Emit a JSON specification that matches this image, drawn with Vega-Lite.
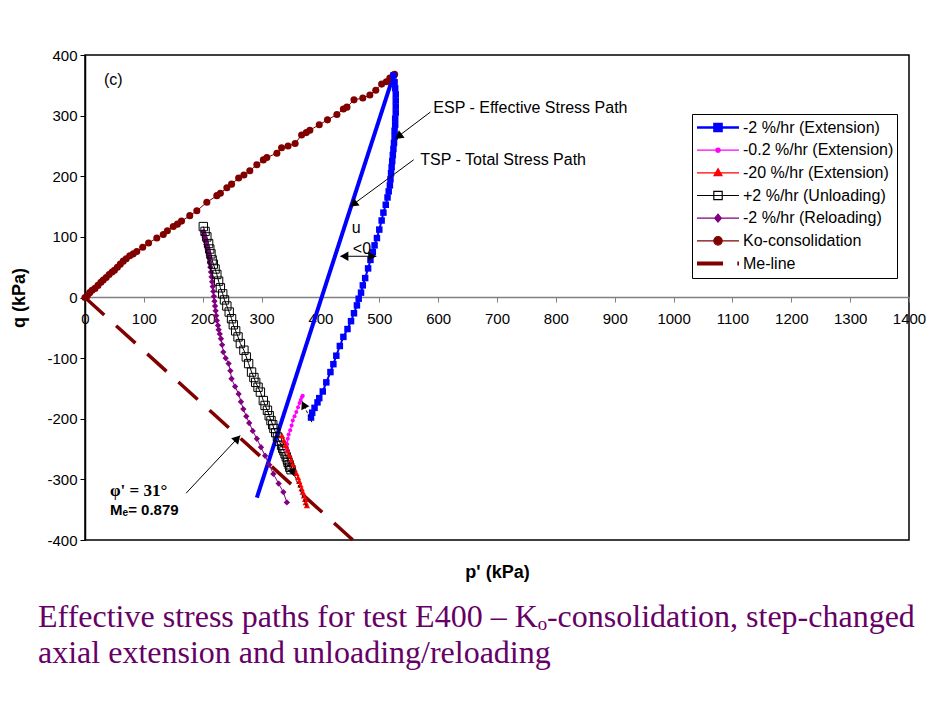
{
  "$schema": "https://vega.github.io/schema/vega-lite/v6.json",
  "width": 824,
  "height": 485,
  "autosize": {"type": "none"},
  "padding": {"left": 85, "top": 55, "right": 41, "bottom": 181},
  "background": "white",
  "title": {
    "text": ["Effective stress paths for test E400 – Kₒ-consolidation, step-changed", "axial extension and unloading/reloading"],
    "orient": "bottom",
    "anchor": "start",
    "frame": "group",
    "font": "Liberation Serif",
    "fontSize": 32,
    "fontWeight": "normal",
    "color": "#660066",
    "lineHeight": 36,
    "dx": -47,
    "offset": 21,
    "baseline": "top"
  },
  "datasets": {
    "paths": [
      {"s": "Ko-consolidation", "i": 0, "p": 0, "q": 0},
      {"s": "Ko-consolidation", "i": 1, "p": 4, "q": 3},
      {"s": "Ko-consolidation", "i": 2, "p": 8, "q": 8},
      {"s": "Ko-consolidation", "i": 3, "p": 12, "q": 12},
      {"s": "Ko-consolidation", "i": 4, "p": 17, "q": 15},
      {"s": "Ko-consolidation", "i": 5, "p": 22, "q": 20},
      {"s": "Ko-consolidation", "i": 6, "p": 27, "q": 25},
      {"s": "Ko-consolidation", "i": 7, "p": 31, "q": 29},
      {"s": "Ko-consolidation", "i": 8, "p": 36, "q": 33},
      {"s": "Ko-consolidation", "i": 9, "p": 41, "q": 38},
      {"s": "Ko-consolidation", "i": 10, "p": 46, "q": 42},
      {"s": "Ko-consolidation", "i": 11, "p": 50, "q": 45},
      {"s": "Ko-consolidation", "i": 12, "p": 55, "q": 50},
      {"s": "Ko-consolidation", "i": 13, "p": 60, "q": 55},
      {"s": "Ko-consolidation", "i": 14, "p": 65, "q": 60},
      {"s": "Ko-consolidation", "i": 15, "p": 70, "q": 64},
      {"s": "Ko-consolidation", "i": 16, "p": 76, "q": 69},
      {"s": "Ko-consolidation", "i": 17, "p": 82, "q": 72},
      {"s": "Ko-consolidation", "i": 18, "p": 88, "q": 76},
      {"s": "Ko-consolidation", "i": 19, "p": 98, "q": 83},
      {"s": "Ko-consolidation", "i": 20, "p": 108, "q": 90},
      {"s": "Ko-consolidation", "i": 21, "p": 122, "q": 98},
      {"s": "Ko-consolidation", "i": 22, "p": 133, "q": 104},
      {"s": "Ko-consolidation", "i": 23, "p": 140, "q": 110},
      {"s": "Ko-consolidation", "i": 24, "p": 150, "q": 117},
      {"s": "Ko-consolidation", "i": 25, "p": 157, "q": 121},
      {"s": "Ko-consolidation", "i": 26, "p": 164, "q": 126},
      {"s": "Ko-consolidation", "i": 27, "p": 178, "q": 135},
      {"s": "Ko-consolidation", "i": 28, "p": 190, "q": 143},
      {"s": "Ko-consolidation", "i": 29, "p": 207, "q": 157},
      {"s": "Ko-consolidation", "i": 30, "p": 224, "q": 168},
      {"s": "Ko-consolidation", "i": 31, "p": 230, "q": 172},
      {"s": "Ko-consolidation", "i": 32, "p": 241, "q": 181},
      {"s": "Ko-consolidation", "i": 33, "p": 249, "q": 187},
      {"s": "Ko-consolidation", "i": 34, "p": 261, "q": 197},
      {"s": "Ko-consolidation", "i": 35, "p": 270, "q": 202},
      {"s": "Ko-consolidation", "i": 36, "p": 280, "q": 209},
      {"s": "Ko-consolidation", "i": 37, "p": 292, "q": 219},
      {"s": "Ko-consolidation", "i": 38, "p": 303, "q": 227},
      {"s": "Ko-consolidation", "i": 39, "p": 309, "q": 231},
      {"s": "Ko-consolidation", "i": 40, "p": 326, "q": 238},
      {"s": "Ko-consolidation", "i": 41, "p": 334, "q": 247},
      {"s": "Ko-consolidation", "i": 42, "p": 345, "q": 250},
      {"s": "Ko-consolidation", "i": 43, "p": 357, "q": 254},
      {"s": "Ko-consolidation", "i": 44, "p": 368, "q": 268},
      {"s": "Ko-consolidation", "i": 45, "p": 376, "q": 272},
      {"s": "Ko-consolidation", "i": 46, "p": 382, "q": 276},
      {"s": "Ko-consolidation", "i": 47, "p": 398, "q": 285},
      {"s": "Ko-consolidation", "i": 48, "p": 412, "q": 293},
      {"s": "Ko-consolidation", "i": 49, "p": 428, "q": 302},
      {"s": "Ko-consolidation", "i": 50, "p": 439, "q": 311},
      {"s": "Ko-consolidation", "i": 51, "p": 445, "q": 314},
      {"s": "Ko-consolidation", "i": 52, "p": 457, "q": 326},
      {"s": "Ko-consolidation", "i": 53, "p": 472, "q": 329},
      {"s": "Ko-consolidation", "i": 54, "p": 484, "q": 334},
      {"s": "Ko-consolidation", "i": 55, "p": 494, "q": 342},
      {"s": "Ko-consolidation", "i": 56, "p": 504, "q": 352},
      {"s": "Ko-consolidation", "i": 57, "p": 512, "q": 356},
      {"s": "Ko-consolidation", "i": 58, "p": 518, "q": 362},
      {"s": "Ko-consolidation", "i": 59, "p": 524, "q": 367},
      {"s": "Ko-consolidation", "i": 60, "p": 526, "q": 368},

      {"s": "-2 %/hr (Extension)", "i": 0, "p": 524, "q": 366},
      {"s": "-2 %/hr (Extension)", "i": 1, "p": 526, "q": 355},
      {"s": "-2 %/hr (Extension)", "i": 2, "p": 527, "q": 345},
      {"s": "-2 %/hr (Extension)", "i": 3, "p": 528, "q": 335},
      {"s": "-2 %/hr (Extension)", "i": 4, "p": 528, "q": 325},
      {"s": "-2 %/hr (Extension)", "i": 5, "p": 528, "q": 315},
      {"s": "-2 %/hr (Extension)", "i": 6, "p": 528, "q": 305},
      {"s": "-2 %/hr (Extension)", "i": 7, "p": 527, "q": 295},
      {"s": "-2 %/hr (Extension)", "i": 8, "p": 527, "q": 285},
      {"s": "-2 %/hr (Extension)", "i": 9, "p": 526, "q": 275},
      {"s": "-2 %/hr (Extension)", "i": 10, "p": 526, "q": 265},
      {"s": "-2 %/hr (Extension)", "i": 11, "p": 525, "q": 255},
      {"s": "-2 %/hr (Extension)", "i": 12, "p": 524, "q": 245},
      {"s": "-2 %/hr (Extension)", "i": 13, "p": 523, "q": 235},
      {"s": "-2 %/hr (Extension)", "i": 14, "p": 522, "q": 225},
      {"s": "-2 %/hr (Extension)", "i": 15, "p": 521, "q": 215},
      {"s": "-2 %/hr (Extension)", "i": 16, "p": 520, "q": 205},
      {"s": "-2 %/hr (Extension)", "i": 17, "p": 519, "q": 195},
      {"s": "-2 %/hr (Extension)", "i": 18, "p": 518, "q": 185},
      {"s": "-2 %/hr (Extension)", "i": 19, "p": 516, "q": 175},
      {"s": "-2 %/hr (Extension)", "i": 20, "p": 514, "q": 165},
      {"s": "-2 %/hr (Extension)", "i": 21, "p": 511, "q": 153},
      {"s": "-2 %/hr (Extension)", "i": 22, "p": 507, "q": 140},
      {"s": "-2 %/hr (Extension)", "i": 23, "p": 504, "q": 127},
      {"s": "-2 %/hr (Extension)", "i": 24, "p": 500, "q": 112},
      {"s": "-2 %/hr (Extension)", "i": 25, "p": 496, "q": 98},
      {"s": "-2 %/hr (Extension)", "i": 26, "p": 492, "q": 86},
      {"s": "-2 %/hr (Extension)", "i": 27, "p": 489, "q": 75},
      {"s": "-2 %/hr (Extension)", "i": 28, "p": 485, "q": 62},
      {"s": "-2 %/hr (Extension)", "i": 29, "p": 481, "q": 48},
      {"s": "-2 %/hr (Extension)", "i": 30, "p": 476, "q": 32},
      {"s": "-2 %/hr (Extension)", "i": 31, "p": 472, "q": 20},
      {"s": "-2 %/hr (Extension)", "i": 32, "p": 469, "q": 8},
      {"s": "-2 %/hr (Extension)", "i": 33, "p": 465, "q": -2},
      {"s": "-2 %/hr (Extension)", "i": 34, "p": 462, "q": -13},
      {"s": "-2 %/hr (Extension)", "i": 35, "p": 457, "q": -26},
      {"s": "-2 %/hr (Extension)", "i": 36, "p": 452, "q": -39},
      {"s": "-2 %/hr (Extension)", "i": 37, "p": 446, "q": -52},
      {"s": "-2 %/hr (Extension)", "i": 38, "p": 439, "q": -65},
      {"s": "-2 %/hr (Extension)", "i": 39, "p": 433, "q": -80},
      {"s": "-2 %/hr (Extension)", "i": 40, "p": 427, "q": -96},
      {"s": "-2 %/hr (Extension)", "i": 41, "p": 422, "q": -110},
      {"s": "-2 %/hr (Extension)", "i": 42, "p": 417, "q": -123},
      {"s": "-2 %/hr (Extension)", "i": 43, "p": 410, "q": -140},
      {"s": "-2 %/hr (Extension)", "i": 44, "p": 404, "q": -155},
      {"s": "-2 %/hr (Extension)", "i": 45, "p": 398, "q": -166},
      {"s": "-2 %/hr (Extension)", "i": 46, "p": 395, "q": -173},
      {"s": "-2 %/hr (Extension)", "i": 47, "p": 390, "q": -182},
      {"s": "-2 %/hr (Extension)", "i": 48, "p": 386, "q": -190},
      {"s": "-2 %/hr (Extension)", "i": 49, "p": 384, "q": -198},

      {"s": "-0.2 %/hr (Extension)", "i": 0, "p": 370, "q": -162},
      {"s": "-0.2 %/hr (Extension)", "i": 1, "p": 368.5, "q": -164},
      {"s": "-0.2 %/hr (Extension)", "i": 2, "p": 366.5, "q": -169},
      {"s": "-0.2 %/hr (Extension)", "i": 3, "p": 364.5, "q": -174},
      {"s": "-0.2 %/hr (Extension)", "i": 4, "p": 362, "q": -181},
      {"s": "-0.2 %/hr (Extension)", "i": 5, "p": 359, "q": -189},
      {"s": "-0.2 %/hr (Extension)", "i": 6, "p": 356, "q": -196},
      {"s": "-0.2 %/hr (Extension)", "i": 7, "p": 353, "q": -203},
      {"s": "-0.2 %/hr (Extension)", "i": 8, "p": 351, "q": -211},
      {"s": "-0.2 %/hr (Extension)", "i": 9, "p": 348.6, "q": -219},
      {"s": "-0.2 %/hr (Extension)", "i": 10, "p": 346, "q": -226},
      {"s": "-0.2 %/hr (Extension)", "i": 11, "p": 344.6, "q": -233},
      {"s": "-0.2 %/hr (Extension)", "i": 12, "p": 343.5, "q": -242},
      {"s": "-0.2 %/hr (Extension)", "i": 13, "p": 343, "q": -250},

      {"s": "-20 %/hr (Extension)", "i": 0, "p": 335, "q": -228},
      {"s": "-20 %/hr (Extension)", "i": 1, "p": 338, "q": -236},
      {"s": "-20 %/hr (Extension)", "i": 2, "p": 341, "q": -244},
      {"s": "-20 %/hr (Extension)", "i": 3, "p": 344, "q": -252},
      {"s": "-20 %/hr (Extension)", "i": 4, "p": 347, "q": -260},
      {"s": "-20 %/hr (Extension)", "i": 5, "p": 350, "q": -268},
      {"s": "-20 %/hr (Extension)", "i": 6, "p": 353, "q": -276},
      {"s": "-20 %/hr (Extension)", "i": 7, "p": 356, "q": -283},
      {"s": "-20 %/hr (Extension)", "i": 8, "p": 359, "q": -290},
      {"s": "-20 %/hr (Extension)", "i": 9, "p": 362, "q": -297},
      {"s": "-20 %/hr (Extension)", "i": 10, "p": 364, "q": -303},
      {"s": "-20 %/hr (Extension)", "i": 11, "p": 366, "q": -309},
      {"s": "-20 %/hr (Extension)", "i": 12, "p": 368, "q": -315},
      {"s": "-20 %/hr (Extension)", "i": 13, "p": 370, "q": -321},
      {"s": "-20 %/hr (Extension)", "i": 14, "p": 372, "q": -327},
      {"s": "-20 %/hr (Extension)", "i": 15, "p": 374, "q": -333},
      {"s": "-20 %/hr (Extension)", "i": 16, "p": 375, "q": -338},
      {"s": "-20 %/hr (Extension)", "i": 17, "p": 377, "q": -343},

      {"s": "+2 %/hr (Unloading)", "i": 0, "p": 350, "q": -284},
      {"s": "+2 %/hr (Unloading)", "i": 1, "p": 348, "q": -280},
      {"s": "+2 %/hr (Unloading)", "i": 2, "p": 347, "q": -276},
      {"s": "+2 %/hr (Unloading)", "i": 3, "p": 345, "q": -272},
      {"s": "+2 %/hr (Unloading)", "i": 4, "p": 344, "q": -268},
      {"s": "+2 %/hr (Unloading)", "i": 5, "p": 342, "q": -263},
      {"s": "+2 %/hr (Unloading)", "i": 6, "p": 340, "q": -258},
      {"s": "+2 %/hr (Unloading)", "i": 7, "p": 338, "q": -253},
      {"s": "+2 %/hr (Unloading)", "i": 8, "p": 336, "q": -249},
      {"s": "+2 %/hr (Unloading)", "i": 9, "p": 334, "q": -244},
      {"s": "+2 %/hr (Unloading)", "i": 10, "p": 330, "q": -237},
      {"s": "+2 %/hr (Unloading)", "i": 11, "p": 327, "q": -230},
      {"s": "+2 %/hr (Unloading)", "i": 12, "p": 324, "q": -223},
      {"s": "+2 %/hr (Unloading)", "i": 13, "p": 321, "q": -216},
      {"s": "+2 %/hr (Unloading)", "i": 14, "p": 319, "q": -210},
      {"s": "+2 %/hr (Unloading)", "i": 15, "p": 316, "q": -203},
      {"s": "+2 %/hr (Unloading)", "i": 16, "p": 313, "q": -195},
      {"s": "+2 %/hr (Unloading)", "i": 17, "p": 310, "q": -186},
      {"s": "+2 %/hr (Unloading)", "i": 18, "p": 306, "q": -178},
      {"s": "+2 %/hr (Unloading)", "i": 19, "p": 303, "q": -170},
      {"s": "+2 %/hr (Unloading)", "i": 20, "p": 298, "q": -156},
      {"s": "+2 %/hr (Unloading)", "i": 21, "p": 294, "q": -148},
      {"s": "+2 %/hr (Unloading)", "i": 22, "p": 290, "q": -140},
      {"s": "+2 %/hr (Unloading)", "i": 23, "p": 287, "q": -132},
      {"s": "+2 %/hr (Unloading)", "i": 24, "p": 283, "q": -123},
      {"s": "+2 %/hr (Unloading)", "i": 25, "p": 278, "q": -109},
      {"s": "+2 %/hr (Unloading)", "i": 26, "p": 274, "q": -98},
      {"s": "+2 %/hr (Unloading)", "i": 27, "p": 270, "q": -87},
      {"s": "+2 %/hr (Unloading)", "i": 28, "p": 264, "q": -76},
      {"s": "+2 %/hr (Unloading)", "i": 29, "p": 260, "q": -65},
      {"s": "+2 %/hr (Unloading)", "i": 30, "p": 256, "q": -55},
      {"s": "+2 %/hr (Unloading)", "i": 31, "p": 252, "q": -45},
      {"s": "+2 %/hr (Unloading)", "i": 32, "p": 249, "q": -35},
      {"s": "+2 %/hr (Unloading)", "i": 33, "p": 245, "q": -24},
      {"s": "+2 %/hr (Unloading)", "i": 34, "p": 241, "q": -14},
      {"s": "+2 %/hr (Unloading)", "i": 35, "p": 237, "q": -4},
      {"s": "+2 %/hr (Unloading)", "i": 36, "p": 234, "q": 6},
      {"s": "+2 %/hr (Unloading)", "i": 37, "p": 230, "q": 16},
      {"s": "+2 %/hr (Unloading)", "i": 38, "p": 227, "q": 27},
      {"s": "+2 %/hr (Unloading)", "i": 39, "p": 224, "q": 38},
      {"s": "+2 %/hr (Unloading)", "i": 40, "p": 221, "q": 47},
      {"s": "+2 %/hr (Unloading)", "i": 41, "p": 218, "q": 55},
      {"s": "+2 %/hr (Unloading)", "i": 42, "p": 216, "q": 62},
      {"s": "+2 %/hr (Unloading)", "i": 43, "p": 214, "q": 72},
      {"s": "+2 %/hr (Unloading)", "i": 44, "p": 212, "q": 80},
      {"s": "+2 %/hr (Unloading)", "i": 45, "p": 210, "q": 89},
      {"s": "+2 %/hr (Unloading)", "i": 46, "p": 207, "q": 100},
      {"s": "+2 %/hr (Unloading)", "i": 47, "p": 204, "q": 109},
      {"s": "+2 %/hr (Unloading)", "i": 48, "p": 201, "q": 117},

      {"s": "-2 %/hr (Reloading)", "i": 0, "p": 201, "q": 108},
      {"s": "-2 %/hr (Reloading)", "i": 1, "p": 202, "q": 104},
      {"s": "-2 %/hr (Reloading)", "i": 2, "p": 203, "q": 100},
      {"s": "-2 %/hr (Reloading)", "i": 3, "p": 204, "q": 96},
      {"s": "-2 %/hr (Reloading)", "i": 4, "p": 205, "q": 92},
      {"s": "-2 %/hr (Reloading)", "i": 5, "p": 206, "q": 88},
      {"s": "-2 %/hr (Reloading)", "i": 6, "p": 207, "q": 84},
      {"s": "-2 %/hr (Reloading)", "i": 7, "p": 208, "q": 80},
      {"s": "-2 %/hr (Reloading)", "i": 8, "p": 209, "q": 75},
      {"s": "-2 %/hr (Reloading)", "i": 9, "p": 210, "q": 70},
      {"s": "-2 %/hr (Reloading)", "i": 10, "p": 211, "q": 65},
      {"s": "-2 %/hr (Reloading)", "i": 11, "p": 212, "q": 58},
      {"s": "-2 %/hr (Reloading)", "i": 12, "p": 213, "q": 50},
      {"s": "-2 %/hr (Reloading)", "i": 13, "p": 214, "q": 42},
      {"s": "-2 %/hr (Reloading)", "i": 14, "p": 215, "q": 34},
      {"s": "-2 %/hr (Reloading)", "i": 15, "p": 216, "q": 26},
      {"s": "-2 %/hr (Reloading)", "i": 16, "p": 217, "q": 18},
      {"s": "-2 %/hr (Reloading)", "i": 17, "p": 218, "q": 10},
      {"s": "-2 %/hr (Reloading)", "i": 18, "p": 219, "q": 2},
      {"s": "-2 %/hr (Reloading)", "i": 19, "p": 220, "q": -6},
      {"s": "-2 %/hr (Reloading)", "i": 20, "p": 221, "q": -14},
      {"s": "-2 %/hr (Reloading)", "i": 21, "p": 222, "q": -22},
      {"s": "-2 %/hr (Reloading)", "i": 22, "p": 223, "q": -30},
      {"s": "-2 %/hr (Reloading)", "i": 23, "p": 224, "q": -38},
      {"s": "-2 %/hr (Reloading)", "i": 24, "p": 226, "q": -46},
      {"s": "-2 %/hr (Reloading)", "i": 25, "p": 227, "q": -53},
      {"s": "-2 %/hr (Reloading)", "i": 26, "p": 229, "q": -60},
      {"s": "-2 %/hr (Reloading)", "i": 27, "p": 231, "q": -68},
      {"s": "-2 %/hr (Reloading)", "i": 28, "p": 233, "q": -78},
      {"s": "-2 %/hr (Reloading)", "i": 29, "p": 235, "q": -90},
      {"s": "-2 %/hr (Reloading)", "i": 30, "p": 239, "q": -100},
      {"s": "-2 %/hr (Reloading)", "i": 31, "p": 244, "q": -109},
      {"s": "-2 %/hr (Reloading)", "i": 32, "p": 247, "q": -121},
      {"s": "-2 %/hr (Reloading)", "i": 33, "p": 249, "q": -134},
      {"s": "-2 %/hr (Reloading)", "i": 34, "p": 255, "q": -147},
      {"s": "-2 %/hr (Reloading)", "i": 35, "p": 261, "q": -159},
      {"s": "-2 %/hr (Reloading)", "i": 36, "p": 265, "q": -172},
      {"s": "-2 %/hr (Reloading)", "i": 37, "p": 269, "q": -184},
      {"s": "-2 %/hr (Reloading)", "i": 38, "p": 274, "q": -196},
      {"s": "-2 %/hr (Reloading)", "i": 39, "p": 279, "q": -207},
      {"s": "-2 %/hr (Reloading)", "i": 40, "p": 285, "q": -220},
      {"s": "-2 %/hr (Reloading)", "i": 41, "p": 292, "q": -233},
      {"s": "-2 %/hr (Reloading)", "i": 42, "p": 299, "q": -247},
      {"s": "-2 %/hr (Reloading)", "i": 43, "p": 306, "q": -261},
      {"s": "-2 %/hr (Reloading)", "i": 44, "p": 313, "q": -276},
      {"s": "-2 %/hr (Reloading)", "i": 45, "p": 320, "q": -291},
      {"s": "-2 %/hr (Reloading)", "i": 46, "p": 329, "q": -307},
      {"s": "-2 %/hr (Reloading)", "i": 47, "p": 337, "q": -321},
      {"s": "-2 %/hr (Reloading)", "i": 48, "p": 343, "q": -338},

      {"s": "Me-line", "i": 0, "p": 0, "q": 0},
      {"s": "Me-line", "i": 1, "p": 455, "q": -400}
    ]
  },
  "encoding": {
    "x": {
      "field": "p", "type": "quantitative",
      "scale": {"domain": [0, 1400], "nice": false, "zero": false},
      "axis": {
        "orient": "bottom", "offset": -243,
        "values": [0, 100, 200, 300, 400, 500, 600, 700, 800, 900, 1000, 1100, 1200, 1300, 1400],
        "labelExpr": "'' + datum.value",
        "grid": false, "tickSize": 5, "tickColor": "#808080", "domainColor": "#808080", "domainWidth": 1.5,
        "labelFont": "Liberation Sans", "labelFontSize": 15, "labelColor": "black", "labelPadding": 9,
        "labelOverlap": false, "labelFlush": false, "labelBound": false,
        "title": "p' (kPa)", "titleFont": "Liberation Sans", "titleFontSize": 18, "titleFontWeight": "bold",
        "titleColor": "black", "titleY": 275, "titleBaseline": "middle"
      }
    },
    "y": {
      "field": "q", "type": "quantitative",
      "scale": {"domain": [-400, 400], "nice": false, "zero": false},
      "axis": {
        "values": [-400, -300, -200, -100, 0, 100, 200, 300, 400],
        "labelExpr": "'' + datum.value",
        "grid": false, "tickSize": 5, "tickColor": "black", "domainColor": "black", "domainWidth": 1.5,
        "labelFont": "Liberation Sans", "labelFontSize": 15, "labelColor": "black", "labelPadding": 3,
        "title": "q (kPa)", "titleFont": "Liberation Sans", "titleFontSize": 18, "titleFontWeight": "bold",
        "titleColor": "black", "titleX": -66, "titleBaseline": "middle"
      }
    }
  },
  "layer": [
    {
      "data": {"values": [{"p": 292, "q": -330}, {"p": 524, "q": 366}]},
      "mark": {"type": "line", "color": "#0000ff", "strokeWidth": 4}
    },
    {
      "data": {"name": "paths"},
      "transform": [{"filter": "datum.s === 'Me-line'"}],
      "mark": {"type": "line", "strokeWidth": 3.5, "strokeDash": [26, 16], "strokeCap": "butt"},
      "encoding": {
        "order": {"field": "i"},
        "color": {
          "field": "s", "type": "nominal",
          "scale": {
            "domain": ["-2 %/hr (Extension)", "-0.2 %/hr (Extension)", "-20 %/hr (Extension)", "+2 %/hr (Unloading)", "-2 %/hr (Reloading)", "Ko-consolidation", "Me-line"],
            "range": ["#0000ff", "#ff00ff", "#ff0000", "#000000", "#800080", "#800000", "#800000"]
          },
          "legend": {
            "orient": "none", "legendX": 607, "legendY": 59, "title": null,
            "padding": 3, "strokeColor": "black", "fillColor": "white",
            "symbolSize": 1764, "clipHeight": 21, "rowPadding": 1.67,
            "labelFont": "Liberation Sans", "labelFontSize": 16, "labelColor": "black", "labelOffset": 4, "labelLimit": 300,
            "encode": {
              "symbols": {
                "update": {
                  "x": {"value": 23},
                  "size": {"value": 1764},
                  "shape": {"signal": "datum.value === '-2 %/hr (Extension)' ? 'M-1,0H1M-0.17,-0.17H0.17V0.17H-0.17Z' : datum.value === '-0.2 %/hr (Extension)' ? 'M-1,0H1M-0.1,0A0.1,0.1,0,1,0,0.1,0A0.1,0.1,0,1,0,-0.1,0Z' : datum.value === '-20 %/hr (Extension)' ? 'M-1,0H1M0,-0.2L0.19,0.13L-0.19,0.13Z' : datum.value === '+2 %/hr (Unloading)' ? 'M-1,0H1M-0.2,-0.2H0.2V0.2H-0.2Z' : datum.value === '-2 %/hr (Reloading)' ? 'M-1,0H1M0,-0.19L0.16,0L0,0.19L-0.16,0Z' : datum.value === 'Ko-consolidation' ? 'M-1,0H1M-0.2,0A0.2,0.2,0,1,0,0.2,0A0.2,0.2,0,1,0,-0.2,0Z' : 'M-1,0H0.24M0.92,0H1'"},
                  "stroke": {"signal": "datum.value === '-2 %/hr (Extension)' ? '#0000ff' : datum.value === '-0.2 %/hr (Extension)' ? '#ff00ff' : datum.value === '-20 %/hr (Extension)' ? '#ff0000' : datum.value === '+2 %/hr (Unloading)' ? '#000000' : datum.value === '-2 %/hr (Reloading)' ? '#800080' : '#800000'"},
                  "fill": {"signal": "datum.value === '-2 %/hr (Extension)' ? '#0000ff' : datum.value === '-0.2 %/hr (Extension)' ? '#ff00ff' : datum.value === '-20 %/hr (Extension)' ? '#ff0000' : datum.value === '+2 %/hr (Unloading)' ? '#ffffff' : datum.value === '-2 %/hr (Reloading)' ? '#800080' : '#800000'"},
                  "strokeWidth": {"signal": "datum.value === '-2 %/hr (Extension)' ? 2.5 : datum.value === 'Me-line' ? 4 : 1.2"},
                  "strokeDash": {"value": []},
                  "opacity": {"value": 1}
                }
              },
              "labels": {
                "update": {
                  "x": {"value": 48}
                }
              }
            }
          }
        }
      }
    },
    {
      "data": {"name": "paths"},
      "transform": [{"filter": "datum.s !== 'Me-line'"}],
      "mark": {"type": "line"},
      "encoding": {
        "order": {"field": "i"},
        "color": {
          "field": "s", "type": "nominal",
          "scale": {
            "domain": ["-2 %/hr (Extension)", "-0.2 %/hr (Extension)", "-20 %/hr (Extension)", "+2 %/hr (Unloading)", "-2 %/hr (Reloading)", "Ko-consolidation", "Me-line"],
            "range": ["#0000ff", "#ff00ff", "#ff0000", "#000000", "#800080", "#800000", "#800000"]
          }
        },
        "strokeWidth": {"condition": {"test": "datum.s === '-2 %/hr (Extension)'", "value": 2}, "value": 1}
      }
    },
    {
      "data": {"name": "paths"},
      "transform": [{"filter": "datum.s === 'Ko-consolidation'"}],
      "mark": {"type": "point", "shape": "circle", "filled": true, "color": "#800000", "size": 50, "opacity": 1}
    },
    {
      "data": {"name": "paths"},
      "transform": [{"filter": "datum.s === '-2 %/hr (Extension)'"}],
      "mark": {"type": "point", "shape": "square", "filled": true, "color": "#0000ff", "size": 42, "opacity": 1}
    },
    {
      "data": {"name": "paths"},
      "transform": [{"filter": "datum.s === '-2 %/hr (Reloading)'"}],
      "mark": {"type": "point", "shape": "diamond", "filled": true, "color": "#800080", "size": 40, "opacity": 1}
    },
    {
      "data": {"name": "paths"},
      "transform": [{"filter": "datum.s === '+2 %/hr (Unloading)'"}],
      "mark": {"type": "point", "shape": "square", "filled": false, "color": "#000000", "size": 70, "strokeWidth": 1, "opacity": 1}
    },
    {
      "data": {"name": "paths"},
      "transform": [{"filter": "datum.s === '-0.2 %/hr (Extension)'"}],
      "mark": {"type": "point", "shape": "circle", "filled": true, "color": "#ff00ff", "size": 16, "opacity": 1}
    },
    {
      "data": {"name": "paths"},
      "transform": [{"filter": "datum.s === '-20 %/hr (Extension)'"}],
      "mark": {"type": "point", "shape": "triangle-up", "filled": true, "color": "#ff0000", "size": 40, "opacity": 1}
    },
    {
      "data": {"values": [
        {"p": 587, "q": 306, "p2": 527, "q2": 262},
        {"p": 558.3, "q": 227.1, "p2": 450.7, "q2": 150.1},
        {"p": 171.8, "q": -322.8, "p2": 263.6, "q2": -227.6},
        {"p": 434, "q": 68, "p2": 495, "q2": 68}
      ]},
      "mark": {"type": "rule", "color": "black", "strokeWidth": 1},
      "encoding": {"x2": {"field": "p2"}, "y2": {"field": "q2"}}
    },
    {
      "data": {"values": [
        {"p": 385.5, "q": -205.7, "p2": 368.5, "q2": -171},
        {"p": 344, "q": -263.4, "p2": 377, "q2": -346}
      ]},
      "mark": {"type": "rule", "color": "black", "strokeWidth": 1, "strokeDash": [3, 2]},
      "encoding": {"x2": {"field": "p2"}, "y2": {"field": "q2"}}
    },
    {
      "data": {"values": [{"p": 532.6, "q": 265.7}]},
      "mark": {"type": "point", "shape": "triangle-up", "filled": true, "color": "black", "size": 90, "opacity": 1, "angle": 233}
    },
    {
      "data": {"values": [{"p": 456.1, "q": 154}]},
      "mark": {"type": "point", "shape": "triangle-up", "filled": true, "color": "black", "size": 90, "opacity": 1, "angle": 234}
    },
    {
      "data": {"values": [{"p": 440.5, "q": 68}]},
      "mark": {"type": "point", "shape": "triangle-up", "filled": true, "color": "black", "size": 90, "opacity": 1, "angle": 270}
    },
    {
      "data": {"values": [{"p": 488.1, "q": 68}]},
      "mark": {"type": "point", "shape": "triangle-up", "filled": true, "color": "black", "size": 90, "opacity": 1, "angle": 90}
    },
    {
      "data": {"values": [{"p": 259, "q": -232.4}]},
      "mark": {"type": "point", "shape": "triangle-up", "filled": true, "color": "black", "size": 90, "opacity": 1, "angle": 43}
    },
    {
      "data": {"values": [{"p": 371.4, "q": -177}]},
      "mark": {"type": "point", "shape": "triangle-up", "filled": true, "color": "black", "size": 80, "opacity": 1, "angle": 334}
    },
    {
      "data": {"values": [{"p": 353.2, "q": -289}]},
      "mark": {"type": "point", "shape": "triangle-up", "filled": true, "color": "black", "size": 80, "opacity": 1, "angle": 161}
    },
    {
      "data": {"values": [{"p": 32.3, "q": 358, "label": "(c)"}]},
      "mark": {"type": "text", "align": "left", "baseline": "middle", "font": "Liberation Sans", "fontSize": 16, "color": "black"},
      "encoding": {"text": {"field": "label"}}
    },
    {
      "data": {"values": [
        {"p": 591.8, "q": 312.5, "label": "ESP - Effective Stress Path"},
        {"p": 569.7, "q": 227.1, "label": "TSP - Total Stress Path"}
      ]},
      "mark": {"type": "text", "align": "left", "baseline": "middle", "font": "Liberation Sans", "fontSize": 16, "color": "black"},
      "encoding": {"text": {"field": "label"}}
    },
    {
      "data": {"values": [
        {"p": 460.9, "q": 114.3, "label": "u"},
        {"p": 470.5, "q": 80.3, "label": "<0"}
      ]},
      "mark": {"type": "text", "align": "center", "baseline": "middle", "font": "Liberation Sans", "fontSize": 16, "color": "black"},
      "encoding": {"text": {"field": "label"}}
    },
    {
      "data": {"values": [{"p": 42.5, "q": -319.5, "label": "φ' = 31°"}]},
      "mark": {"type": "text", "align": "left", "baseline": "middle", "font": "Liberation Serif", "fontSize": 17, "fontWeight": "bold", "color": "black"},
      "encoding": {"text": {"field": "label"}}
    },
    {
      "data": {"values": [{"p": 42.5, "q": -349.7, "label": "Mₑ= 0.879"}]},
      "mark": {"type": "text", "align": "left", "baseline": "middle", "font": "Liberation Sans", "fontSize": 15, "fontWeight": "bold", "color": "black"},
      "encoding": {"text": {"field": "label"}}
    }
  ],
  "config": {
    "font": "Liberation Sans",
    "view": {"stroke": "black", "strokeWidth": 1.5},
    "axis": {"labelColor": "black", "titleColor": "black"}
  }
}
